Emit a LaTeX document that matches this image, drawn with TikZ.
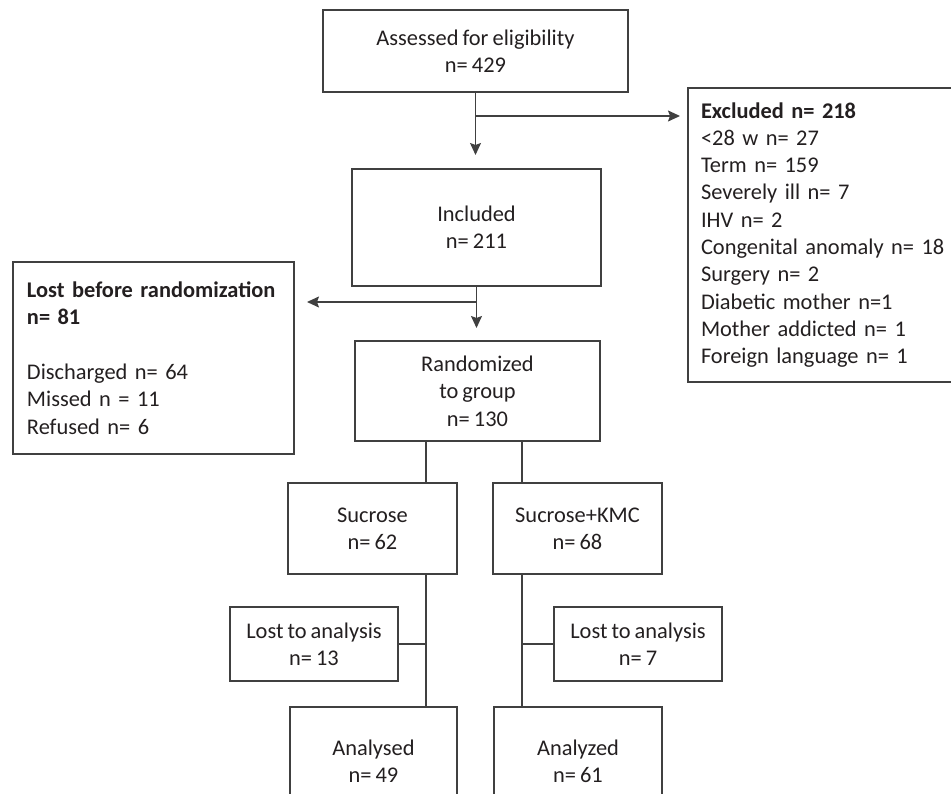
\documentclass[tikz,border=0pt]{standalone}
\usepackage{fontspec}
\setmainfont{Carlito}[WordSpace=0.8]
\usepackage{tikz}
\usetikzlibrary{arrows.meta, positioning, calc}
\definecolor{linegray}{HTML}{404040}
\definecolor{textblack}{HTML}{231F20}
\tikzset{
    stage/.style={rectangle, draw=linegray, line width=1.4pt, align=center, text=textblack, font=\fontsize{22.4}{27.3}\selectfont, inner sep=0pt, outer sep=0pt},
    listbox/.style={stage, align=left, inner xsep=13pt, anchor=north west},
    flow/.style={draw=linegray, line width=1.4pt, -{Stealth[length=12pt, width=11pt, inset=2pt]}},
    link/.style={draw=linegray, line width=1.4pt},
}
\begin{document}
\begin{tikzpicture}[x=1pt, y=-1pt]

\useasboundingbox (0,0) rectangle (951,794);
\clip (0,0) rectangle (951,794);

% Stages
\node[stage, minimum width=305pt, minimum height=82pt] (assess) at (475.5, 51) {Assessed for eligibility\\n= 429};
\node[stage, minimum width=249pt, minimum height=117pt] (incl) at (476.5, 227.5) {Included\\n= 211};
\node[stage, minimum width=245pt, minimum height=100pt] (rand) at (477.5, 391) {Randomized\\to group\\n= 130};
\node[stage, minimum width=169pt, minimum height=91pt] (suc) at (372.5, 528.5) {Sucrose\\n= 62};
\node[stage, minimum width=169pt, minimum height=91pt] (kmc) at (577.5, 528.5) {Sucrose+KMC\\n= 68};
\node[stage, minimum width=168pt, minimum height=74pt] (lostsuc) at (314, 644) {Lost to analysis\\n= 13};
\node[stage, minimum width=168pt, minimum height=74pt] (lostkmc) at (638, 644) {Lost to analysis\\n= 7};
\node[stage, minimum width=167pt, minimum height=108pt] (anasuc) at (373.5, 761) {Analysed\\n= 49};
\node[stage, minimum width=168pt, minimum height=108pt] (anakmc) at (578, 761) {Analyzed\\n= 61};

% Side boxes
\node[listbox, text width=260pt, minimum height=294pt] (excl) at (688, 88) {\textbf{Excluded n= 218}\\
<28 w n= 27\\
Term n= 159\\
Severely ill n= 7\\
IHV n= 2\\
Congenital anomaly n= 18\\
Surgery n= 2\\
Diabetic mother n=1\\
Mother addicted n= 1\\
Foreign language n= 1};
\node[listbox, inner xsep=14pt, text width=253pt, minimum height=192pt] (lostpre) at (13, 262) {\mbox{\textbf{Lost before randomization}}\\
\textbf{n= 81}\\[27.3pt]
Discharged n= 64\\
Missed n = 11\\
Refused n= 6};

% Branch points
\coordinate (b1) at ($(assess.south)+(0,24)$);
\coordinate (exclin) at ($(b1 -| excl.west)+(-8,0)$);
\coordinate (b2) at ($(incl.south)+(0,16)$);
\coordinate (lostin) at ($(b2 -| lostpre.east)+(13,0)$);
\coordinate (rsuc) at ($(rand.south west)+(71,0)$);
\coordinate (rkmc) at ($(rand.south east)+(-78,0)$);

% Flow
\draw[flow, shorten >=14pt] (assess.south) -- (assess.south |- incl.north);
\draw[flow] (b1) -- (exclin);
\draw[flow, shorten >=13pt] (incl.south) -- (incl.south |- rand.north);
\draw[flow] (b2) -- (lostin);

\draw[link] (rsuc) -- (rsuc |- suc.north);
\draw[link] (rkmc) -- (rkmc |- kmc.north);
\draw[link] (rsuc |- suc.south) -- (rsuc |- anasuc.north);
\draw[link] (rkmc |- kmc.south) -- (rkmc |- anakmc.north);
\draw[link] (lostsuc.east) -- (lostsuc.east -| rsuc);
\draw[link] (lostkmc.west) -- (lostkmc.west -| rkmc);

\end{tikzpicture}
\end{document}
